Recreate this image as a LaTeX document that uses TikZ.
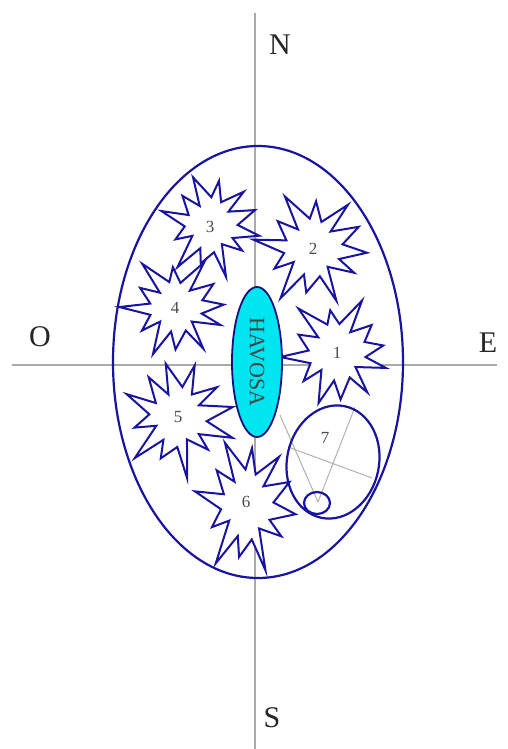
\documentclass[tikz,border=0pt]{standalone}
\usepackage{fontspec}
\setmainfont{Liberation Serif}
\usetikzlibrary{shapes.geometric}
\definecolor{dblue}{RGB}{25,20,160}
\definecolor{hcyan}{RGB}{0,230,240}
\definecolor{axisgray}{RGB}{170,170,170}
\tikzset{
  axis/.style={axisgray, line width=1.2pt},
  dir/.style={font=\fontsize{30}{30}\selectfont, text=black!85},
  starline/.style={dblue, line width=2pt, line join=miter, fill=white},
  numlabel/.style={font=\fontsize{17}{17}\selectfont, text=black!70},
  ovalline/.style={dblue, line width=2.2pt},
  guide/.style={black!30, line width=1pt},
}
\newcommand{\burst}[6]{% cx cy R r rot yscale
  \draw[starline, shift={(#1,#2)}, yscale=#6]
    plot[samples at={0,...,23}] ({\x*15+#5+4*sin(\x*131)}:{ifthenelse(mod(\x,2)==0, #3*(1+0.16*sin(\x*97+#5*3)), #4*(1+0.12*cos(\x*61+#5)))}) -- cycle;}
\begin{document}
\begin{tikzpicture}[x=1pt,y=-1pt]
\useasboundingbox (0,0) rectangle (507,749);
\fill[white] (0,0) rectangle (507,749);
% axes
\coordinate (nTop) at (255,13);
\coordinate (sBot) at (255,749);
\coordinate (wEnd) at (12,365);
\coordinate (eEnd) at (497,365);
\draw[axis] (nTop) -- (sBot);
\draw[axis] (wEnd) -- (eEnd);
\node[dir] (N) at (280,45) {N};
\node[dir] (S) at (272,718) {S};
\node[dir] (O) at (40,337) {O};
\node[dir] (E) at (488,343) {E};
% big ellipse
\draw[ovalline] (258,362) ellipse [x radius=145, y radius=216];
% stars
\burst{313}{248}{52}{27}{5}{1}
\burst{337}{352}{50}{27}{-8}{1}
\burst{211}{225}{45}{24}{12}{1.05}
\burst{176}{307}{49}{25}{-3}{0.95}
\burst{178}{417}{51}{26}{20}{1.05}
\burst{247}{505}{46}{24}{8}{1.35}
\node[numlabel] (s1) at (337,353) {1};
\node[numlabel] (s2) at (313,249) {2};
\node[numlabel] (s3) at (210,227) {3};
\node[numlabel] (s4) at (175,308) {4};
\node[numlabel] (s5) at (178,417) {5};
\node[numlabel] (s6) at (246,502) {6};
% ellipse 7 with guide lines
\coordinate (g1) at (288,447);
\coordinate (g2) at (372,478);
\coordinate (g3) at (355,407);
\coordinate (g4) at (318,502);
\coordinate (g5) at (280,415);
\draw[guide] (g1) -- (g2);
\draw[guide] (g3) -- (g4);
\draw[guide] (g5) -- (g4);
\draw[ovalline] (333,462) ellipse [x radius=46, y radius=57, rotate=-12];
\draw[ovalline] (317,503) ellipse [x radius=13, y radius=11];
\node[numlabel] (s7) at (325,438) {7};
% HAVOSA
\node[draw=dblue!80!black, line width=1.8pt, fill=hcyan, ellipse, minimum width=50, minimum height=150, inner sep=0] (hav) at (257,362) {};
\node[rotate=-90, font=\fontsize{22}{22}\selectfont, text=black!75] (havt) at (hav.center) {HAVOSA};
\end{tikzpicture}
\end{document}
